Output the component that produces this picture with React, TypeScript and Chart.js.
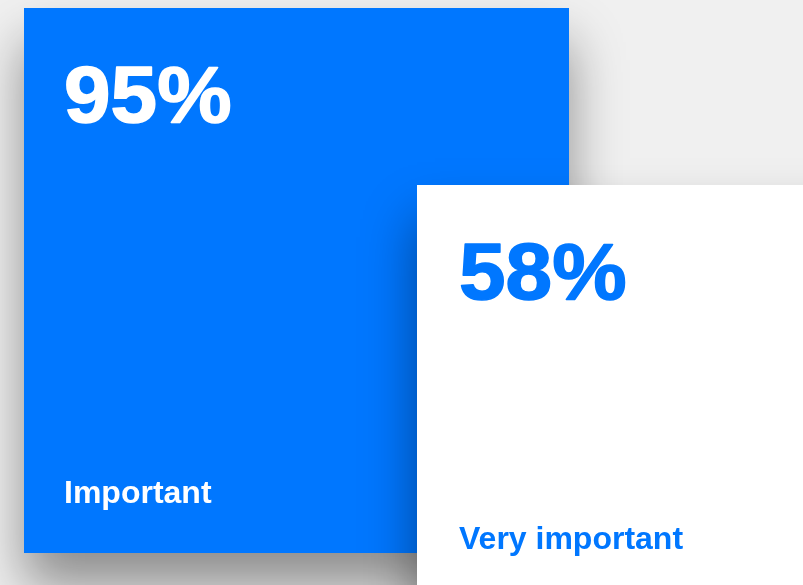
import React, { useEffect, useRef } from "react";
import { Chart, registerables } from "chart.js";

Chart.register(...registerables);

// ---- data ----
const categories = ["Important", "Very important"];
const percentages = [95, 58];

// ---- styles / layout ----
const cardColors = ["#0077ff", "#ffffff"];
const textColors = ["#ffffff", "#0077ff"];
const BG = "#f0f0f0";
const W = 803;
const H = 585;
const CARD = 545;
const CARD_X0 = 24;
const CARD_Y0 = 8;
const STEP_X = 393;
const STEP_Y = 177;
const PAD_X = [40, 42];
const NUMBER_BASELINE = 113.5;
const NUMBER_FONT_SIZE = 79;
const NUMBER_STRETCH = 1.06;
const LABEL_FROM_BOTTOM = 50;
const LABEL_MIN_FROM_VIEW_BOTTOM = 36;
const FONT = '"Liberation Sans", Arial, Helvetica, sans-serif';

const shadowPlugin = {
  id: "cardShadow",
  beforeDatasetDraw(chart: any) {
    const ctx = chart.ctx;
    ctx.save();
    ctx.shadowColor = "rgba(0,0,0,0.41)";
    ctx.shadowBlur = 50;
    ctx.shadowOffsetX = 0;
    ctx.shadowOffsetY = 34;
  },
  afterDatasetDraw(chart: any) {
    chart.ctx.restore();
  },
};

const textPlugin = {
  id: "cardText",
  afterDatasetsDraw(chart: any) {
    const ctx = chart.ctx;
    ctx.save();
    ctx.textBaseline = "alphabetic";
    ctx.textAlign = "left";
    categories.forEach((label, i) => {
      const el = chart.getDatasetMeta(i).data[0];
      if (!el) return;
      const p = el.getProps(["x", "y", "base", "width"], true);
      const left = p.x - p.width / 2;
      const top = Math.min(p.y, p.base);
      const bottom = Math.max(p.y, p.base);
      ctx.fillStyle = textColors[i];
      ctx.strokeStyle = textColors[i];
      ctx.save();
      ctx.translate(left + PAD_X[i], top + NUMBER_BASELINE);
      ctx.scale(NUMBER_STRETCH, 1);
      ctx.font = `bold ${NUMBER_FONT_SIZE}px ${FONT}`;
      ctx.lineWidth = 1.5;
      ctx.lineJoin = "round";
      ctx.fillText(`${percentages[i]}%`, 0, 0);
      ctx.strokeText(`${percentages[i]}%`, 0, 0);
      ctx.restore();
      ctx.font = `bold 32px ${FONT}`;
      const lb = Math.min(bottom - LABEL_FROM_BOTTOM, chart.height - LABEL_MIN_FROM_VIEW_BOTTOM);
      ctx.fillText(label, left + PAD_X[i], lb);
    });
    ctx.restore();
  },
};

export default function App() {
  const ref = useRef<HTMLCanvasElement>(null);
  useEffect(() => {
    if (!ref.current) return;
    const datasets = categories.map((label, i) => ({
      label,
      data: [
        {
          x: CARD_X0 + i * STEP_X + CARD / 2,
          y: [CARD_Y0 + i * STEP_Y, CARD_Y0 + i * STEP_Y + CARD],
        },
      ],
      backgroundColor: cardColors[i],
      borderWidth: 0,
      barThickness: CARD,
      grouped: false,
      inflateAmount: 0,
      order: categories.length - i,
    }));
    const chart = new Chart(ref.current, {
      type: "bar",
      data: { datasets } as any,
      options: {
        responsive: false,
        animation: false,
        events: [],
        layout: { padding: 0 },
        plugins: { legend: { display: false }, tooltip: { enabled: false } },
        scales: {
          x: { type: "linear", min: 0, max: W, display: false, offset: false },
          y: { type: "linear", min: 0, max: H, reverse: true, display: false, beginAtZero: false },
        },
      } as any,
      plugins: [shadowPlugin, textPlugin],
    });
    return () => chart.destroy();
  }, []);
  return (
    <div style={{ position: "fixed", inset: 0, background: BG, overflow: "hidden" }}>
      <canvas ref={ref} width={W} height={H} style={{ display: "block", width: W, height: H }} />
    </div>
  );
}
